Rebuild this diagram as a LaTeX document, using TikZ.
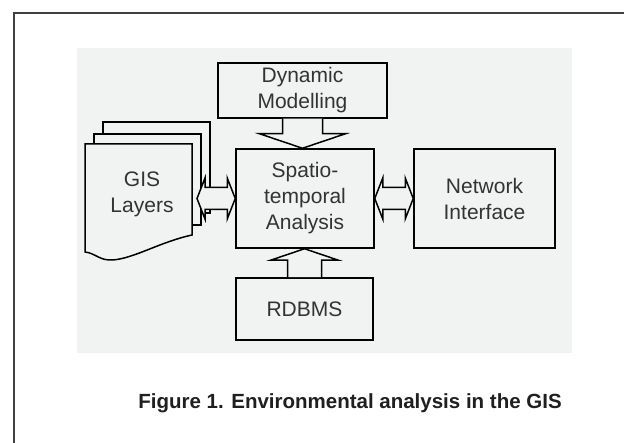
\documentclass[tikz,border=0pt]{standalone}
\usepackage{fontspec}
\setmainfont{Liberation Sans}
\usetikzlibrary{calc}

\definecolor{panel}{HTML}{F1F2F2}
\definecolor{ink}{HTML}{333333}

\tikzset{
  txt/.style={text=ink, align=center, font=\fontsize{21}{26}\selectfont, inner sep=0pt},
  box/.style={txt, draw, line width=1.5pt},
  fat/.style={draw, line width=1.5pt, fill=panel, line join=miter},
  page/.style={draw, line width=1.5pt, fill=panel},
}

\begin{document}
\begin{tikzpicture}[x=1pt, y=-1pt]
  \useasboundingbox (0,0) rectangle (624,443);
  \draw [line width=1.2pt, draw=black!75] (14,443) -- (14,13) -- (624,13);
  \fill [panel] (77,48) rectangle (572,353);

  % stacked layers
  \draw [page] (103,122) rectangle (210,213);
  \draw [page] (94,134) rectangle (201,225);
  \draw [page] (85,144) -- (192,144) -- (192,235)
    .. controls (160,242) and (135,258) .. (113,260)
    .. controls (100,261) and (95,253) .. (85,252) -- cycle;
  \node [txt] (gis) at (142,194) {GIS\\Layers};
  \coordinate (gisR) at (197,198.5);

  \node [box, minimum width=169pt, minimum height=55pt] (dyn)   at (302.5,90.5) {Dynamic\\Modelling};
  \node [box, minimum width=138pt, minimum height=99pt] (core)  at (305,198.5)  {Spatio-\\temporal\\Analysis};
  \node [box, minimum width=141pt, minimum height=99pt] (net)   at (484.5,198.5) {Network\\Interface};
  \node [box, minimum width=137pt, minimum height=62pt] (rdbms) at (304.5,309)  {RDBMS};

  % block arrows
  \draw [fat] ($(dyn.south)+(-20,0)$) -- ++(0,15) -- ++(-23,0) -- (dyn.south |- core.north)
    -- ($(dyn.south)+(43,15)$) -- ++(-23,0) -- ($(dyn.south)+(20,0)$);
  \draw [fat] ($(rdbms.north)+(-17,0)$) -- ++(0,-17) -- ++(-17,0) -- (rdbms.north |- core.south)
    -- ($(rdbms.north)+(34,-17)$) -- ++(-17,0) -- ($(rdbms.north)+(17,0)$);
  \draw [fat] (gisR) -- ++(8,-20.5) -- ++(0,9.5) -- ($(core.west)+(-8,-11)$) -- ++(0,-9.5)
    -- (core.west) -- ++(-8,20.5) -- ++(0,-9.5) -- ($(gisR)+(8,11)$) -- ++(0,9.5) -- cycle;
  \draw [fat] (core.east) -- ++(8,-20.5) -- ++(0,9.5) -- ($(net.west)+(-8,-11)$) -- ++(0,-9.5)
    -- (net.west) -- ++(-8,20.5) -- ++(0,-9.5) -- ($(core.east)+(8,11)$) -- ++(0,9.5) -- cycle;

  \node [font=\bfseries\fontsize{20.5}{24}\selectfont, text=black!88] (cap) at (350,403)
    {Figure 1. Environmental analysis in the GIS};
\end{tikzpicture}
\end{document}
